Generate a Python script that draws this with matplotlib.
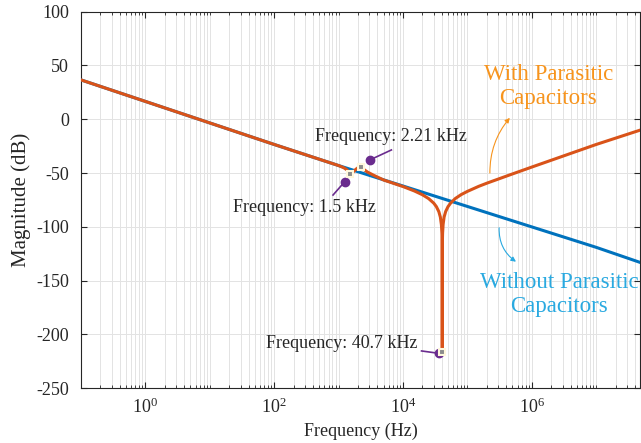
import numpy as np
import matplotlib
matplotlib.use('Agg')
import matplotlib.pyplot as plt
from matplotlib.ticker import FixedLocator, LogLocator, NullFormatter
from matplotlib.patches import FancyArrowPatch

plt.rcParams['font.family'] = ['Liberation Serif', 'DejaVu Serif']
plt.rcParams['mathtext.fontset'] = 'custom'
plt.rcParams['mathtext.rm'] = 'Liberation Serif'
plt.rcParams['axes.unicode_minus'] = False

# Without parasitic capacitors (Hz, dB)
freq_blue = [0.1, 1, 10, 100, 1e3, 1e4, 1e5, 1e6, 1e7, 4.8e7]
mag_blue = [36.6, 16.6, -3.4, -23.4, -43.0, -62.0, -81.0, -100.0, -119.0, -133.0]

# With parasitic capacitors (Hz, dB)
freq_orange = [0.1, 1, 10, 100, 1e3, 1.2e3, 1.35e3, 1.5e3, 1.65e3, 1.85e3, 2.05e3, 2.21e3,
               2.45e3, 2.8e3, 3.5e3, 5e3, 1e4, 1.5e4, 2e4, 2.5e4, 3e4, 3.3e4, 3.6e4, 3.8e4,
               3.95e4, 4.02e4, 4.05e4, 4.07e4, 4.09e4, 4.12e4, 4.2e4, 4.35e4, 4.6e4, 5e4,
               5.5e4, 6.5e4, 8e4, 1e5, 1.5e5, 2e5, 3e5, 5e5, 1e6, 1e7, 4.8e7]
mag_orange = [36.6, 16.6, -3.4, -23.4, -43.0, -45.0, -47.0, -50.8, -49.5, -46.5, -44.5, -44.3,
              -46.5, -49.0, -52.0, -56.4, -62.5, -66.6, -70.1, -73.7, -77.9, -81.2, -85.8, -90.8,
              -98.0, -105.8, -113.7, -216.0, -113.7, -105.7, -97.5, -90.8, -85.7, -81.2,
              -77.8, -73.6, -70.0, -67.0, -62.3, -59.4, -55.6, -50.8, -44.4, -23.4, -10.1]

# data tips: (freq, dB) on the curve, label text
tip_freq = [1.5e3, 2.21e3, 4.07e4]
tip_mag = [-50.8, -44.3, -216.0]
tip_labels = ['Frequency: 1.5 kHz', 'Frequency: 2.21 kHz', 'Frequency: 40.7 kHz']
# purple pointer dot, pointer end, text centre
tip_dot = [(1.245e3, -58.0), (3.05e3, -37.8), (3.59e4, -217.5)]
tip_end = [(819, -70.4), (6.6e3, -28.5), (1.94e4, -215.3)]
tip_text = [(290, -82.0), (6.46e3, -16.2), (1.117e3, -208.8)]

c_blue = '#0072BD'
c_orange = '#D95319'
c_purple = '#6A2C8E'

fig = plt.figure(figsize=(6.41, 4.43), dpi=100)
ax = fig.add_axes([0.1264, 0.1235, 0.8720, 0.8501])

ax.plot(freq_blue, mag_blue, color=c_blue, lw=2.2, zorder=3)
ax.plot(freq_orange, mag_orange, color=c_orange, lw=2.2, zorder=4)

# data tips
for f, m, (xd, yd), (xe, ye), (xt, yt), lab in zip(tip_freq, tip_mag, tip_dot, tip_end, tip_text, tip_labels):
    ax.plot([xd, xe], [yd, ye], color=c_purple, lw=1.2, zorder=5)
    ax.plot(xd, yd, 'o', color=c_purple, ms=6, zorder=6)
    ax.plot(f, m, 's', color='#8C8C8C', ms=4, mec='#FFF8DC', mew=1.5, zorder=6)
    ax.text(xt, yt, lab, ha='center', va='center', fontsize=13, color='#262626', zorder=7)

# curve labels with curved arrows
ax.text(1.81e6, 30.3, 'With Parasitic\nCapacitors', ha='center', va='center',
        fontsize=16.5, color='#F7941D', linespacing=1.2)
ax.text(2.67e6, -162.5, 'Without Parasitic\nCapacitors', ha='center', va='center',
        fontsize=16.5, color='#29A9E0', linespacing=1.2)
ax.add_patch(FancyArrowPatch((10**5.35, -52.5), (10**5.687, 3.3), arrowstyle='-|>',
                             mutation_scale=7, lw=0.8, color='#F7941D',
                             connectionstyle='arc3,rad=-0.2', zorder=7))
ax.add_patch(FancyArrowPatch((10**5.495, -98.2), (10**5.79, -133.8), arrowstyle='-|>',
                             mutation_scale=7, lw=0.8, color='#29A9E0',
                             connectionstyle='arc3,rad=0.3', zorder=7))

ax.set_xscale('log')
ax.set_xlim(0.1, 10**7.68)
ax.set_ylim(-250, 100)
ax.set_yticks(np.arange(-250, 101, 50))
ax.xaxis.set_major_locator(FixedLocator([1, 1e2, 1e4, 1e6]))
ax.xaxis.set_minor_locator(LogLocator(base=10, subs=np.arange(1, 10), numticks=30))
ax.xaxis.set_minor_formatter(NullFormatter())

ax.grid(True, which='major', color='#E3E3E3', lw=0.7)
ax.grid(True, which='minor', axis='x', color='#E3E3E3', lw=0.7)
ax.set_axisbelow(True)

ax.tick_params(which='both', direction='in', top=True, right=True, colors='#262626', labelsize=13)
ax.tick_params(which='major', length=4, width=0.8)
ax.tick_params(which='minor', length=2, width=0.6)
ax.tick_params(axis='y', pad=8.5)
ax.tick_params(axis='x', pad=7)
for s in ax.spines.values():
    s.set_color('#262626')
    s.set_linewidth(0.8)

ax.set_xlabel('Frequency (Hz)', fontsize=13, color='#262626', labelpad=4)
ax.set_ylabel('Magnitude (dB)', fontsize=15, color='#262626', labelpad=4)

fig.savefig('out.png', dpi=100)
